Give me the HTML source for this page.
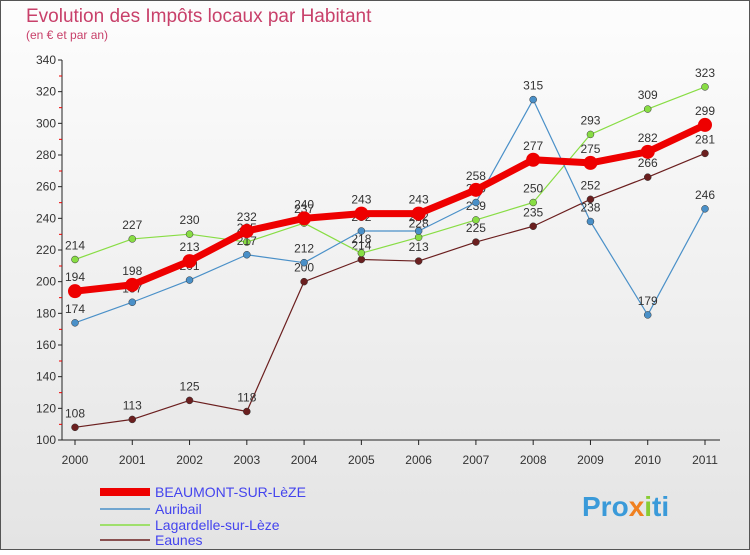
<!DOCTYPE html>
<html><head><meta charset="utf-8"><style>
body{margin:0;width:750px;height:550px;overflow:hidden;font-family:"Liberation Sans",sans-serif}
</style></head><body>
<svg width="750" height="550" xmlns="http://www.w3.org/2000/svg" id="svg">
<defs><linearGradient id="bg" x1="0" y1="0" x2="0" y2="1"><stop offset="0" stop-color="#fdfdfd"/><stop offset="1" stop-color="#e4e4e4"/></linearGradient></defs>
<rect x="0.5" y="0.5" width="749" height="549" fill="url(#bg)" stroke="#555"/>
<text x="26" y="22" font-size="19" fill="#c8406a">Evolution des Impôts locaux par Habitant</text>
<text x="26" y="39" font-size="12" fill="#c8406a">(en € et par an)</text>
<g id="axes"></g><g id="series"></g>
<g font-size="14" fill="#4444ee">
<line x1="100" y1="492" x2="150" y2="492" stroke="#ee0000" stroke-width="8"/>
<text x="155" y="497">BEAUMONT-SUR-LèZE</text>
<line x1="100" y1="509" x2="150" y2="509" stroke="#4a90c8" stroke-width="1.5"/>
<text x="155" y="514">Auribail</text>
<line x1="100" y1="525" x2="150" y2="525" stroke="#88dd44" stroke-width="1.5"/>
<text x="155" y="530">Lagardelle-sur-Lèze</text>
<line x1="100" y1="540" x2="150" y2="540" stroke="#6b1f1f" stroke-width="1.5"/>
<text x="155" y="545">Eaunes</text>
</g>
<text x="582" y="516" font-size="28" font-weight="bold" fill="#3a9ad9">Pro<tspan fill="#f08020">x</tspan><tspan fill="#88cc33">i</tspan>ti</text>
</svg>
<script>
const years=["2000","2001","2002","2003","2004","2005","2006","2007","2008","2009","2010","2011"];
const yTicks=[100,120,140,160,180,200,220,240,260,280,300,320,340];
const beaumont=[194,198,213,232,240,243,243,258,277,275,282,299];
const auribail=[174,187,201,217,212,232,232,250,315,238,179,246];
const lagardelle=[214,227,230,225,237,218,228,239,250,293,309,323];
const eaunes=[108,113,125,118,200,214,213,225,235,252,266,281];
const NS="http://www.w3.org/2000/svg";
const xs=i=>75+i*(630/11), ys=v=>440-(v-100)*380/240;
function mk(t,a,p){const e=document.createElementNS(NS,t);for(const k in a)e.setAttribute(k,a[k]);p.appendChild(e);return e;}
const ax=document.getElementById('axes');
const yl=mk('line',{x1:62,y1:60,x2:62,y2:440,stroke:'#222'},ax);

const xl=mk('line',{x1:62,y1:440,x2:720,y2:440,stroke:'#222'},ax);

yTicks.forEach((v,k)=>{const y=ys(v);
mk('line',{x1:58,y1:y,x2:62,y2:y,stroke:'#222'},ax);
if(k>0) mk('line',{x1:59,y1:y+16,x2:62,y2:y+16,stroke:'#e00'},ax);
const t=mk('text',{x:56,y:y+4,'font-size':12,fill:'#333','text-anchor':'end'},ax);t.textContent=v;
});
years.forEach((yr,i)=>{const x=xs(i);mk('line',{x1:x,y1:440,x2:x,y2:445,stroke:'#222'},ax);
const t=mk('text',{x:x,y:464,'font-size':12,fill:'#333','text-anchor':'middle'},ax);t.textContent=yr;
});
const sg=document.getElementById('series');
function series(name,vals,col,w,r){
const g=mk('g',{},sg);
mk('polyline',{points:vals.map((v,i)=>xs(i)+','+ys(v)).join(' '),fill:'none',stroke:col,'stroke-width':w,'stroke-linejoin':'round'},g);
vals.forEach((v,i)=>{const c=mk('circle',{cx:xs(i),cy:ys(v),r:r,fill:col,stroke:'#333','stroke-width':r>5?0:0.5},g);

const t=mk('text',{x:xs(i),y:ys(v)-10,'font-size':12,fill:'#333','text-anchor':'middle'},g);t.textContent=v;});}
series('series-eaunes',eaunes,'#6b1f1f',1.2,3.5);
series('series-lagardelle',lagardelle,'#88dd44',1.2,3.5);
series('series-auribail',auribail,'#4a90c8',1.2,3.5);
series('series-beaumont',beaumont,'#ee0000',7,7);
</script>
</body></html>
